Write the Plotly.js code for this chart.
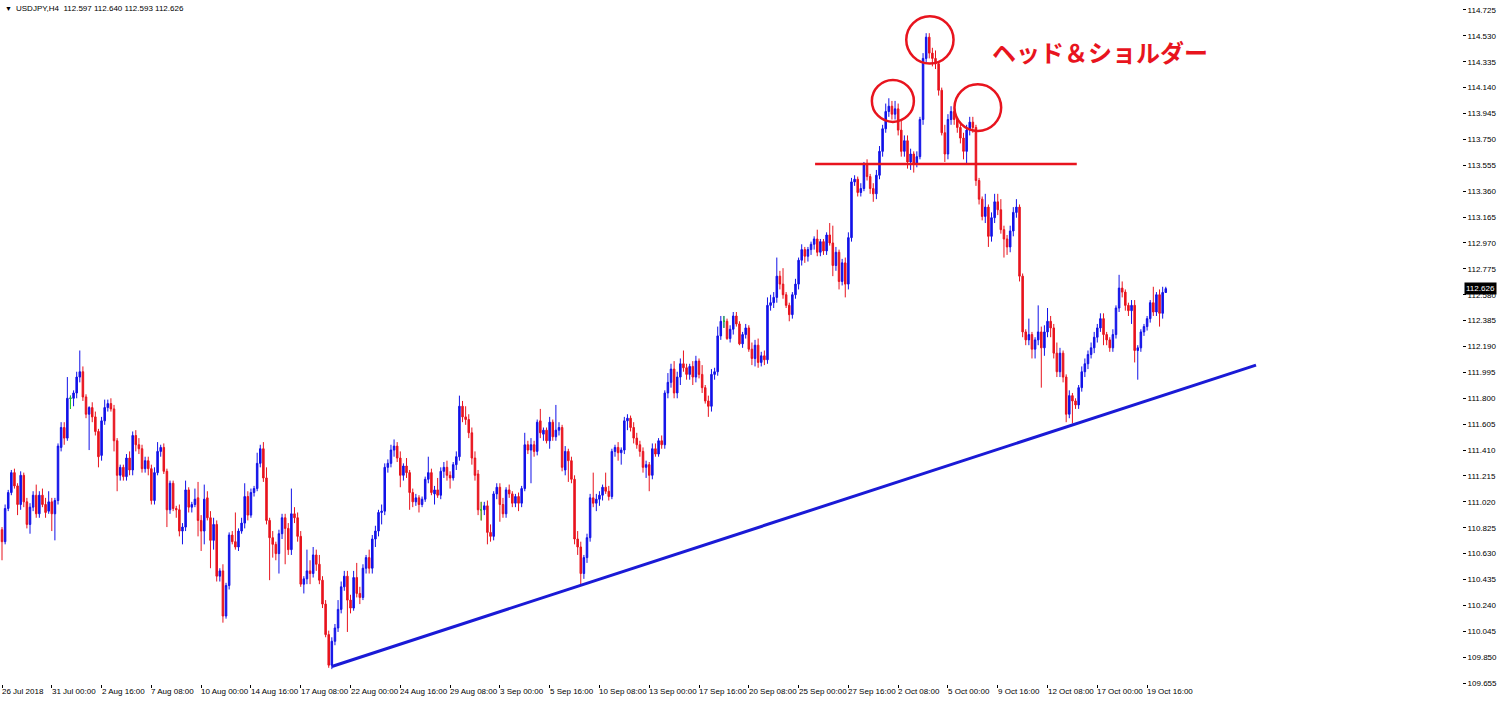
<!DOCTYPE html>
<html><head><meta charset="utf-8">
<script src="https://cdn.plot.ly/plotly-3.0.1.min.js"></script>
<style>html,body{margin:0;padding:0;background:#fff;}#chart{width:1500px;height:702px;}</style>
</head><body><div id="chart"></div>
<script>
const headerText = "USDJPY,H4  112.597 112.640 112.593 112.626";
const patternLabel = "ヘッド＆ショルダー";
const lastPrice = 112.626;

const openP = [
110.81,110.72,110.97,111.09,111.24,111.14,111.00,111.22,111.02,110.85,110.98,111.07,110.93,111.07,111.00,110.95,111.02,110.93,111.03,111.43,111.58,111.50,111.80,111.80,111.84,111.96,112.00,111.81,111.68,111.73,111.66,111.55,
111.37,111.63,111.73,111.76,111.72,111.48,111.22,111.28,111.21,111.35,111.26,111.52,111.45,111.42,111.27,111.33,111.27,111.03,111.24,111.40,111.43,111.25,110.96,111.16,110.97,110.96,110.80,110.83,111.11,110.98,111.00,111.05,
110.88,110.80,111.05,110.90,110.73,110.85,110.46,110.50,110.16,110.39,110.77,110.72,110.68,110.80,110.86,111.06,110.92,111.09,111.12,111.31,111.42,111.20,110.88,110.75,110.70,110.63,110.78,110.90,110.82,110.66,110.93,110.90,
110.76,110.40,110.44,110.50,110.48,110.62,110.55,110.43,110.25,110.02,109.79,109.97,110.07,110.21,110.38,110.46,110.28,110.22,110.45,110.33,110.30,110.52,110.60,110.52,110.74,110.80,110.94,110.95,111.28,111.31,111.41,111.44,
111.35,111.22,111.29,111.24,111.09,111.02,111.05,111.00,111.04,111.19,111.24,111.08,111.11,111.07,111.25,111.28,111.22,111.20,111.30,111.36,111.74,111.66,111.64,111.54,111.35,111.23,110.96,110.96,110.99,110.79,110.76,111.08,
111.13,111.00,110.93,111.11,111.08,111.01,111.06,111.01,111.12,111.45,111.41,111.45,111.40,111.63,111.53,111.56,111.48,111.62,111.51,111.56,111.58,111.26,111.40,111.33,111.19,110.74,110.68,110.48,110.60,110.75,111.05,111.01,
111.04,111.07,111.13,111.10,111.06,111.40,111.43,111.39,111.41,111.63,111.65,111.58,111.50,111.45,111.40,111.28,111.30,111.22,111.42,111.38,111.48,111.45,111.84,111.92,112.02,111.84,111.96,112.06,112.03,111.98,112.04,111.96,
112.08,111.98,111.88,111.78,111.74,111.98,112.00,112.27,112.38,112.38,112.25,112.32,112.42,112.36,112.21,112.28,112.33,112.17,112.10,112.20,112.07,112.12,112.09,112.50,112.52,112.56,112.72,112.66,112.58,112.50,112.43,112.58,
112.66,112.84,112.92,112.87,112.92,112.96,113.00,112.90,112.98,112.91,113.03,112.97,112.80,112.90,112.68,112.82,112.66,113.01,113.43,113.45,113.35,113.38,113.56,113.47,113.38,113.34,113.48,113.66,113.83,113.96,114.00,113.94,
113.98,113.82,113.66,113.74,113.58,113.64,113.57,113.62,113.90,114.36,114.52,114.40,114.36,114.32,114.12,113.80,113.64,113.90,113.96,113.90,113.84,113.76,113.66,113.82,113.88,113.84,113.44,113.30,113.17,113.24,113.02,113.16,
113.28,113.22,113.07,113.00,112.94,113.06,113.20,113.24,112.72,112.30,112.24,112.28,112.17,112.24,112.30,112.18,112.30,112.38,112.33,112.14,112.00,112.14,111.96,111.68,111.82,111.78,111.75,111.88,112.00,112.06,112.13,112.18,
112.26,112.33,112.40,112.28,112.24,112.18,112.28,112.48,112.63,112.60,112.50,112.46,112.50,112.16,112.18,112.30,112.34,112.40,112.52,112.45,112.58,112.44,112.597];

const highP = [
110.83,111.00,111.11,111.26,111.27,111.16,111.25,111.24,111.05,111.01,111.10,111.15,111.10,111.12,111.05,111.10,111.05,111.05,111.46,111.62,111.62,111.96,111.82,111.86,112.00,112.16,112.04,111.83,111.74,111.77,111.70,111.57,
111.66,111.79,111.79,111.80,111.75,111.50,111.30,111.30,111.38,111.40,111.55,111.56,111.50,111.45,111.36,111.36,111.30,111.28,111.47,111.45,111.46,111.27,111.18,111.18,110.99,111.00,110.86,111.18,111.13,111.02,111.12,111.17,
110.92,111.15,111.10,110.95,110.90,110.88,110.52,110.55,110.41,110.79,110.80,110.94,110.82,110.90,111.16,111.10,111.12,111.14,111.39,111.45,111.47,111.28,110.90,110.80,110.72,110.81,110.93,110.93,110.86,111.12,110.98,110.94,
110.80,110.46,110.66,110.58,110.68,110.66,110.62,110.46,110.28,110.05,110.00,110.10,110.28,110.42,110.50,110.50,110.32,110.50,110.56,110.38,110.55,110.62,110.66,110.77,110.84,110.96,111.00,111.31,111.34,111.45,111.49,111.47,
111.40,111.31,111.35,111.26,111.12,111.08,111.07,111.06,111.21,111.36,111.27,111.14,111.20,111.28,111.32,111.33,111.25,111.32,111.40,111.82,111.78,111.74,111.68,111.58,111.40,111.26,111.02,111.02,111.03,110.85,111.10,111.16,
111.16,111.05,111.13,111.15,111.10,111.08,111.09,111.14,111.54,111.48,111.50,111.48,111.64,111.72,111.58,111.58,111.66,111.64,111.75,111.62,111.60,111.44,111.42,111.36,111.22,110.80,110.72,110.62,110.78,111.08,111.24,111.08,
111.10,111.15,111.24,111.14,111.42,111.45,111.47,111.43,111.66,111.68,111.67,111.62,111.54,111.48,111.43,111.33,111.32,111.46,111.46,111.50,111.52,111.86,111.99,112.06,112.08,112.00,112.10,112.16,112.06,112.06,112.08,112.12,
112.10,112.05,111.90,111.82,112.02,112.03,112.34,112.42,112.42,112.40,112.35,112.45,112.45,112.38,112.30,112.36,112.35,112.22,112.24,112.25,112.15,112.16,112.56,112.58,112.60,112.86,112.76,112.78,112.60,112.52,112.60,112.70,
112.86,112.96,112.94,112.94,112.98,113.02,113.07,113.00,113.00,113.05,113.12,113.10,112.94,112.92,112.85,112.86,113.05,113.46,113.48,113.47,113.42,113.58,113.60,113.49,113.42,113.52,113.70,113.86,114.02,114.06,114.04,114.04,
114.02,113.90,113.78,113.78,113.68,113.66,113.66,113.92,114.40,114.55,114.55,114.44,114.42,114.34,114.14,113.86,113.94,114.00,113.99,113.92,113.88,113.80,113.86,113.92,113.92,113.86,113.46,113.32,113.34,113.26,113.20,113.34,
113.34,113.30,113.10,113.03,113.10,113.24,113.30,113.26,112.74,112.32,112.40,112.30,112.26,112.50,112.34,112.35,112.48,112.42,112.36,112.22,112.18,112.16,111.98,111.86,111.84,111.80,111.90,112.04,112.10,112.16,112.22,112.30,
112.36,112.44,112.44,112.30,112.26,112.32,112.50,112.73,112.68,112.62,112.52,112.54,112.54,112.20,112.32,112.36,112.42,112.54,112.64,112.60,112.62,112.64,112.640];

const lowP = [
110.58,110.70,110.95,111.07,111.12,110.92,110.96,110.98,110.82,110.78,110.95,110.90,110.90,110.98,110.90,110.93,110.80,110.73,111.00,111.40,111.45,111.48,111.72,111.74,111.80,111.92,111.78,111.65,111.41,111.62,111.52,111.28,
111.33,111.60,111.70,111.70,111.40,111.10,111.18,111.18,111.18,111.22,111.22,111.40,111.38,111.24,111.24,111.22,111.00,111.00,111.22,111.36,111.23,110.83,110.93,110.95,110.90,110.76,110.70,110.80,110.94,110.94,110.98,110.76,
110.65,110.70,110.88,110.52,110.66,110.42,110.42,110.11,110.14,110.36,110.70,110.66,110.65,110.78,110.82,110.88,110.90,111.06,111.10,111.28,111.17,110.85,110.43,110.60,110.58,110.48,110.74,110.55,110.62,110.62,110.86,110.72,
110.38,110.33,110.40,110.40,110.45,110.50,110.40,110.22,110.00,109.77,109.76,109.94,110.04,110.18,110.35,110.04,110.18,110.20,110.30,110.25,110.28,110.48,110.48,110.48,110.68,110.76,110.85,110.92,111.24,111.28,111.36,111.32,
111.13,111.18,111.20,110.96,110.98,110.99,110.94,110.98,111.02,111.16,111.07,111.00,111.05,111.04,111.20,111.18,111.12,111.18,111.26,111.33,111.62,111.60,111.50,111.30,111.18,110.92,110.88,110.92,110.70,110.72,110.73,111.04,
110.87,110.90,110.90,111.05,110.98,110.98,110.95,110.98,111.10,111.38,111.16,111.36,111.37,111.50,111.48,111.46,111.42,111.48,111.48,111.52,111.25,111.22,111.17,111.16,110.70,110.62,110.40,110.44,110.56,110.72,110.98,110.95,
110.99,111.03,111.08,111.03,111.04,111.36,111.33,111.30,111.38,111.56,111.55,111.46,111.42,111.36,111.24,111.20,111.10,111.19,111.36,111.36,111.42,111.42,111.80,111.88,111.80,111.80,111.90,112.00,111.94,111.94,111.90,111.92,
111.95,111.84,111.76,111.66,111.70,111.94,111.97,112.24,112.33,112.24,112.22,112.28,112.34,112.20,112.18,112.25,112.15,112.05,112.04,112.03,112.04,112.05,112.06,112.46,112.48,112.52,112.62,112.55,112.48,112.38,112.40,112.55,
112.62,112.80,112.82,112.83,112.88,112.92,112.87,112.87,112.88,112.88,112.95,112.72,112.76,112.62,112.65,112.56,112.62,112.98,113.40,113.32,113.32,113.36,113.44,113.34,113.28,113.30,113.45,113.62,113.80,113.92,113.90,113.90,
113.78,113.62,113.62,113.53,113.52,113.50,113.54,113.60,113.86,114.33,114.36,114.30,114.28,114.08,113.78,113.58,113.60,113.86,113.86,113.80,113.72,113.60,113.57,113.78,113.80,113.40,113.26,113.14,113.12,112.94,112.98,113.12,
113.18,113.04,112.86,112.88,112.90,113.02,113.16,112.68,112.26,112.20,112.20,112.10,112.10,112.20,111.88,112.12,112.26,112.26,112.10,111.96,111.96,111.92,111.62,111.65,111.61,111.72,111.72,111.85,111.96,112.02,112.10,112.14,
112.22,112.30,112.20,112.20,112.15,112.15,112.25,112.45,112.56,112.46,112.42,112.36,112.07,111.94,112.15,112.27,112.31,112.37,112.42,112.42,112.34,112.40,112.593];

const closeP = [
110.72,110.97,111.09,111.24,111.14,111.00,111.22,111.02,110.85,110.98,111.07,110.93,111.07,111.00,110.94,111.02,110.93,111.03,111.44,111.58,111.50,111.80,111.80,111.84,111.96,112.00,111.81,111.68,111.73,111.66,111.55,111.36,
111.63,111.73,111.76,111.72,111.48,111.22,111.28,111.21,111.35,111.26,111.52,111.45,111.42,111.27,111.33,111.27,111.03,111.24,111.40,111.43,111.25,110.96,111.16,110.97,110.96,110.80,110.83,111.11,110.98,111.00,111.04,110.88,
110.80,111.04,110.90,110.73,110.85,110.46,110.50,110.16,110.39,110.77,110.72,110.68,110.80,110.86,111.06,110.92,111.09,111.12,111.31,111.42,111.20,110.88,110.75,110.70,110.63,110.78,110.90,110.82,110.66,110.93,110.90,110.76,
110.40,110.44,110.50,110.48,110.62,110.55,110.43,110.25,110.02,109.79,109.97,110.07,110.21,110.38,110.46,110.28,110.22,110.45,110.33,110.30,110.52,110.60,110.52,110.74,110.80,110.94,110.95,111.28,111.31,111.41,111.44,111.35,
111.22,111.29,111.24,111.09,111.02,111.05,111.00,111.04,111.19,111.24,111.09,111.11,111.07,111.25,111.28,111.22,111.20,111.30,111.36,111.74,111.66,111.64,111.54,111.35,111.22,110.96,110.96,110.99,110.79,110.76,111.08,111.13,
111.00,110.93,111.11,111.08,111.01,111.06,111.01,111.12,111.45,111.41,111.45,111.40,111.62,111.54,111.56,111.48,111.62,111.51,111.56,111.58,111.28,111.40,111.33,111.19,110.74,110.68,110.48,110.60,110.75,111.05,111.01,111.04,
111.07,111.13,111.10,111.06,111.40,111.43,111.39,111.41,111.63,111.65,111.58,111.50,111.45,111.40,111.28,111.30,111.22,111.42,111.38,111.48,111.45,111.84,111.92,112.02,111.84,111.96,112.06,112.03,111.98,112.04,111.96,112.08,
111.98,111.88,111.78,111.74,111.98,112.00,112.27,112.38,112.38,112.25,112.32,112.42,112.36,112.21,112.28,112.33,112.17,112.10,112.20,112.07,112.12,112.09,112.50,112.52,112.56,112.72,112.66,112.58,112.50,112.43,112.58,112.66,
112.84,112.92,112.87,112.92,112.96,113.00,112.90,112.98,112.91,113.03,112.97,112.80,112.90,112.68,112.82,112.66,113.01,113.43,113.45,113.35,113.38,113.56,113.47,113.38,113.34,113.48,113.66,113.83,113.96,114.00,113.94,113.98,
113.82,113.66,113.74,113.58,113.64,113.57,113.62,113.90,114.36,114.52,114.40,114.36,114.32,114.12,113.80,113.64,113.90,113.96,113.90,113.84,113.76,113.66,113.82,113.88,113.84,113.44,113.30,113.17,113.24,113.02,113.16,113.28,
113.22,113.07,113.00,112.94,113.06,113.20,113.24,112.72,112.30,112.24,112.28,112.17,112.24,112.30,112.18,112.30,112.38,112.33,112.14,112.00,112.14,111.96,111.68,111.82,111.78,111.75,111.88,112.00,112.06,112.13,112.18,112.26,
112.33,112.40,112.28,112.24,112.18,112.28,112.48,112.63,112.60,112.50,112.46,112.50,112.16,112.18,112.30,112.34,112.40,112.52,112.45,112.58,112.44,112.597,112.626];

const timeLabels = ["26 Jul 2018","31 Jul 00:00","2 Aug 16:00","7 Aug 08:00","10 Aug 00:00","14 Aug 16:00","17 Aug 08:00","22 Aug 00:00","24 Aug 16:00","29 Aug 08:00","3 Sep 00:00","5 Sep 16:00","10 Sep 08:00","13 Sep 00:00","17 Sep 16:00","20 Sep 08:00","25 Sep 00:00","27 Sep 16:00","2 Oct 08:00","5 Oct 00:00","9 Oct 16:00","12 Oct 08:00","17 Oct 00:00","19 Oct 16:00"];
const timeLabelBars = [0,16,32,48,64,80,96,112,128,144,160,176,192,208,224,240,256,272,288,304,320,336,352,368];

const priceTicks = [109.655,109.850,110.045,110.240,110.435,110.630,110.825,111.020,111.215,111.410,111.605,111.800,111.995,112.190,112.385,112.580,112.775,112.970,113.165,113.360,113.555,113.750,113.945,114.140,114.335,114.530,114.725];

// pattern drawing anchors (bar index, price)
const trendStart = [106, 109.78], trendEnd = [403, 112.05];
const necklinePrice = 113.565, necklineBars = [261.3, 345.4];
const circles = [[286.3, 114.04, 6.75, 0.158],[298.2, 114.50, 7.6, 0.178],[313.6, 113.99, 7.5, 0.176]];

const BLUE = '#1212e8', RED = '#e8141e', GREEN = '#22cc22';
const FONT = 'Liberation Sans, Arial, sans-serif';

const idx = openP.map((_, i) => i);
const isDoji = idx.map(i => openP[i] === closeP[i]);

const mainTrace = {
  type: 'candlestick', x: idx, open: openP, high: highP, low: lowP, close: closeP,
  increasing: {line: {color: BLUE, width: 1}, fillcolor: BLUE},
  decreasing: {line: {color: RED, width: 1}, fillcolor: RED},
  whiskerwidth: 0, hoverinfo: 'skip', showlegend: false
};
const dojiTrace = {
  type: 'candlestick', x: idx,
  open: openP.map((v, i) => isDoji[i] ? v : null),
  high: highP.map((v, i) => isDoji[i] ? v : null),
  low: lowP.map((v, i) => isDoji[i] ? v : null),
  close: closeP.map((v, i) => isDoji[i] ? v : null),
  increasing: {line: {color: GREEN, width: 1}, fillcolor: GREEN},
  decreasing: {line: {color: GREEN, width: 1}, fillcolor: GREEN},
  whiskerwidth: 0, hoverinfo: 'skip', showlegend: false
};

const shapes = [
  {type: 'line', xref: 'x', yref: 'y', x0: trendStart[0], y0: trendStart[1], x1: trendEnd[0], y1: trendEnd[1],
   line: {color: '#1a1ad6', width: 3}},
  {type: 'line', xref: 'x', yref: 'y', x0: necklineBars[0], y0: necklinePrice, x1: necklineBars[1], y1: necklinePrice,
   line: {color: RED, width: 2.5}}
];
circles.forEach(c => shapes.push({type: 'circle', xref: 'x', yref: 'y',
  x0: c[0] - c[2], x1: c[0] + c[2], y0: c[1] - c[3], y1: c[1] + c[3],
  line: {color: RED, width: 2.5}, fillcolor: 'rgba(0,0,0,0)'}));

const annotations = [
  {xref: 'paper', yref: 'paper', x: 3/1462, y: 1 - 8/684, xanchor: 'left', yanchor: 'middle',
   text: '▼', showarrow: false, font: {family: FONT, size: 7, color: '#000'}},
  {xref: 'paper', yref: 'paper', x: 14/1462, y: 1 - 8/684, xanchor: 'left', yanchor: 'middle',
   text: headerText, showarrow: false, font: {family: FONT, size: 8, color: '#000'}},
  {xref: 'x', yref: 'y', x: 353, y: 114.41, xanchor: 'center', yanchor: 'middle',
   text: '<b>' + patternLabel + '</b>', showarrow: false,
   font: {family: 'Noto Sans CJK JP, sans-serif', size: 24, color: RED}},
  {xref: 'paper', yref: 'y', x: 1, y: lastPrice, xanchor: 'left', yanchor: 'middle', xshift: 2,
   text: lastPrice.toFixed(3), showarrow: false, bgcolor: '#000', borderpad: 1,
   font: {family: FONT, size: 8, color: '#fff'}}
];
timeLabels.forEach((t, k) => annotations.push({
  xref: 'x', yref: 'paper', x: timeLabelBars[k], y: 0, xanchor: 'left', yanchor: 'top', xshift: -2, yshift: -1,
  text: t, showarrow: false, font: {family: FONT, size: 8, color: '#000'}
}));

const layout = {
  width: 1500, height: 702,
  margin: {l: 0, r: 38, t: 0, b: 18, pad: 0},
  paper_bgcolor: '#fff', plot_bgcolor: '#fff',
  showlegend: false,
  xaxis: {range: [-0.643, 469.2], rangeslider: {visible: false}, showgrid: false, zeroline: false,
          showticklabels: false, tickmode: 'array', tickvals: timeLabelBars, ticks: 'outside', ticklen: 3,
          tickcolor: '#000', showline: false, fixedrange: true},
  yaxis: {range: [109.648, 114.800], side: 'right', showgrid: false, zeroline: false,
          tickmode: 'array', tickvals: priceTicks, tickformat: '.3f', ticks: 'outside', ticklen: 3,
          tickcolor: '#000', tickfont: {family: FONT, size: 8, color: '#000'}, showline: false, fixedrange: true},
  shapes: shapes,
  annotations: annotations
};

Plotly.newPlot('chart', [mainTrace, dojiTrace], layout, {displayModeBar: false, staticPlot: true});
</script>
</body></html>
